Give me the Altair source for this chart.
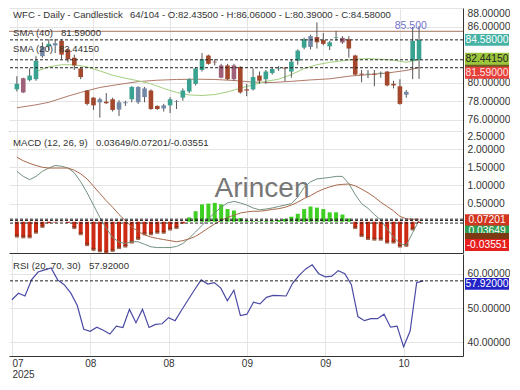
import json
import altair as alt
import pandas as pd

FONT = "Liberation Sans"
GRID = "#e4e4e4"
BORDER = "#333333"

# ---------------- data ----------------
bar_index = list(range(64))
opens = [79.27, 80.46, 80.26, 80.36, 83.82, 83.89, 84.22, 84.48, 83.56, 82.67,
         81.51, 79.14, 78.38, 78.21, 77.95, 78.21, 77.10, 77.78, 78.21, 77.88,
         78.44, 79.14, 77.49, 77.22, 77.55, 77.95, 78.38, 79.04, 79.86, 81.35,
         82.90, 82.24, 80.52, 81.84, 80.36, 81.68, 79.27, 79.27, 80.75, 80.36,
         81.02, 81.45, 81.58, 81.18, 82.34, 83.75, 83.82, 84.88, 84.55, 83.89,
         84.81, 84.80, 84.65, 82.90, 80.95, 80.90, 80.95, 81.00, 81.18, 79.86,
         79.60, 78.70, 82.34, 82.435]
highs = [80.68, 80.52, 81.51, 82.83, 84.32, 84.65, 84.65, 84.65, 83.65, 83.00,
         81.68, 79.20, 78.44, 78.38, 78.87, 78.38, 78.11, 78.05, 79.60, 79.60,
         79.53, 79.27, 77.55, 77.71, 78.44, 78.11, 79.37, 80.46, 81.68, 83.16,
         83.00, 82.50, 82.01, 82.01, 82.01, 81.75, 79.86, 81.51, 81.18, 81.35,
         81.68, 81.77, 81.68, 82.50, 83.56, 84.81, 85.14, 86.46, 85.31, 84.48,
         85.54, 84.98, 84.98, 83.00, 81.35, 81.35, 81.35, 81.18, 81.25, 80.19,
         80.36, 79.20, 85.97, 86.06]
lows = [79.04, 78.87, 80.13, 80.19, 82.67, 83.49, 83.16, 82.50, 82.17, 81.35,
        80.36, 77.55, 77.06, 76.23, 77.71, 76.89, 76.40, 77.49, 77.88, 77.71,
        77.88, 77.06, 77.06, 76.89, 76.72, 77.16, 78.05, 78.87, 79.69, 81.18,
        81.91, 81.84, 80.46, 80.26, 80.19, 78.80, 78.54, 79.14, 79.86, 79.86,
        80.85, 81.25, 80.13, 80.52, 81.91, 83.56, 83.56, 83.65, 83.99, 83.49,
        84.48, 84.15, 82.67, 80.78, 80.03, 80.46, 79.60, 80.52, 79.60, 79.37,
        77.61, 78.38, 80.36, 80.39]
closes = [79.86, 78.94, 80.75, 82.34, 82.83, 84.15, 83.99, 83.00, 82.50, 81.84,
          80.59, 77.71, 77.55, 77.88, 77.78, 77.06, 77.88, 77.88, 79.53, 79.53,
          79.37, 77.16, 77.16, 77.55, 78.21, 78.02, 79.14, 80.36, 81.51, 82.50,
          82.01, 82.17, 81.84, 80.36, 81.84, 78.94, 79.14, 80.59, 80.19, 81.18,
          81.45, 81.51, 81.51, 82.24, 83.43, 84.65, 84.98, 84.32, 84.15, 84.32,
          84.88, 84.30, 83.65, 80.85, 80.85, 80.95, 80.85, 81.05, 79.69, 79.69,
          77.71, 79.00, 84.48, 84.58]
candle_kind = ["t", "m", "t", "t", "s", "t", "s", "b", "b", "b",
               "b", "b", "b", "s", "b", "b", "s", "s", "t", "s",
               "s", "b", "b", "s", "t", "s", "t", "t", "t", "t",
               "b", "b", "m", "b", "m", "b", "b", "t", "b", "t",
               "t", "t", "b", "t", "t", "t", "s", "b", "b", "t",
               "t", "m", "b", "b", "b", "t", "b", "t", "b", "b",
               "b", "s", "t", "t"]

sma20_index = [3, 5, 7, 9, 11, 13, 15, 17, 19, 21, 23, 25, 27, 29, 31, 33, 35, 37,
               39, 41, 43, 45, 47, 49, 51, 53, 55, 57, 59, 61, 63]
sma20 = [81.18, 81.68, 81.91, 81.91, 81.68, 81.25, 80.78, 80.46, 80.19, 79.86,
         79.37, 78.94, 78.67, 78.61, 78.71, 79.00, 79.40, 79.75, 80.13, 80.36,
         80.85, 81.51, 81.91, 82.17, 82.34, 82.50, 82.57, 82.50, 82.40, 82.17, 82.4415]
sma40_index = [0, 3, 5, 8, 10, 13, 16, 19, 22, 25, 28, 31, 34, 37, 40, 43, 46, 49,
               52, 55, 58, 61, 63]
sma40 = [77.29, 77.61, 77.88, 78.54, 78.94, 79.47, 79.80, 80.10, 80.25, 80.33,
         80.36, 80.33, 80.22, 80.05, 80.00, 80.13, 80.28, 80.40, 80.68, 80.85,
         81.02, 81.30, 81.59]

macd_line = [1.39, 1.25, 1.16, 1.25, 1.39, 1.48, 1.55, 1.53, 1.48, 1.35,
             1.10, 0.80, 0.46, 0.12, -0.18, -0.43, -0.56, -0.60, -0.55, -0.55,
             -0.62, -0.69, -0.71, -0.71, -0.71, -0.68, -0.60, -0.45, -0.28, -0.10,
             0.08, 0.25, 0.40, 0.52, 0.56, 0.52, 0.46, 0.38, 0.33, 0.35,
             0.38, 0.42, 0.46, 0.50, 0.68, 0.95, 1.10, 1.18, 1.20, 1.22,
             1.25, 1.25, 1.05, 0.75, 0.50, 0.37, 0.20, 0.05, -0.20, -0.42,
             -0.60, -0.65, -0.30, 0.03649]
macd_signal = [1.78, 1.68, 1.61, 1.55, 1.50, 1.48, 1.48, 1.48, 1.48, 1.42,
               1.32, 1.18, 0.98, 0.78, 0.58, 0.40, 0.20, 0.03, -0.14, -0.27,
               -0.36, -0.42, -0.46, -0.49, -0.52, -0.55, -0.52, -0.47, -0.40, -0.29,
               -0.17, -0.06, 0.04, 0.12, 0.18, 0.24, 0.27, 0.29, 0.29, 0.31,
               0.34, 0.36, 0.40, 0.46, 0.54, 0.64, 0.72, 0.82, 0.90, 0.96,
               1.01, 1.03, 1.04, 0.99, 0.90, 0.80, 0.68, 0.54, 0.42, 0.30,
               0.15, 0.08, 0.07, 0.07201]
macd_hist = [-0.395, -0.416, -0.416, -0.288, -0.128, -0.04, -0.02, -0.01, -0.03, -0.16,
             -0.33, -0.63, -0.76, -0.80, -0.84, -0.79, -0.71, -0.67, -0.56, -0.46,
             -0.33, -0.33, -0.29, -0.29, -0.20, -0.16, -0.05, 0.12, 0.29, 0.48,
             0.50, 0.52, 0.48, 0.35, 0.31, 0.10, 0.03, 0.02, 0.02, 0.02,
             0.03, 0.05, 0.08, 0.14, 0.22, 0.35, 0.42, 0.39, 0.35, 0.26,
             0.26, 0.20, 0.09, -0.16, -0.38, -0.46, -0.48, -0.48, -0.56, -0.56,
             -0.67, -0.65, -0.20, -0.03551]
rsi_line = [52.4, 54.3, 53.5, 58.2, 60.5, 61.1, 61.7, 58.2, 56.8, 54.4,
            50.8, 43.8, 43.2, 44.4, 43.5, 42.4, 44.7, 44.3, 49.6, 45.7,
            49.6, 44.3, 45.2, 45.4, 47.2, 46.3, 49.4, 52.4, 55.4, 58.2,
            57.0, 57.4, 55.8, 52.1, 55.2, 47.8, 48.2, 51.7, 51.2, 53.1,
            53.7, 53.6, 53.5, 57.2, 59.5, 61.4, 62.6, 60.0, 59.1, 59.3,
            60.9, 60.0, 56.8, 47.5, 46.3, 46.9, 46.9, 48.2, 44.4, 44.7,
            38.7, 43.3, 57.4, 57.92]

tick_index = [0, 12, 24, 36, 48, 60]
tick_labels = ["07", "08", "08", "09", "09", "10"]
year_label = "2025"

last_close = 84.58
sma20_last = 82.4415
sma40_last = 81.59
high_level = 85.5
macd_values = [0.03649, 0.07201, -0.03551]   # macd / signal / histogram
rsi_last = 57.92

price_ticks = [76, 78, 80, 86, 88]
macd_ticks = [0.5, 1.0, 1.5, 2.0, 2.5]
rsi_ticks = [40, 50, 60]

header_left = "WFC - Daily - Candlestick"
header_right = "64/104 - O:82.43500 - H:86.06000 - L:80.39000 - C:84.58000"

# ---------------- layout ----------------
W = 454
H1, H2, H3 = 123, 122, 102
XS = alt.Scale(domain=[-0.45, 69.1], nice=False, zero=False)
BOX_SHAPE = "M-1,-0.27L1,-0.27L1,0.27L-1,0.27Z"
BOX_X = W + 24
TITLE_SIZE = 9.6

candles = pd.DataFrame({"i": bar_index, "o": opens, "h": highs, "l": lows,
                        "c": closes, "kind": candle_kind})
sma20_df = pd.DataFrame({"i": sma20_index, "v": sma20})
sma40_df = pd.DataFrame({"i": sma40_index, "v": sma40})
macd_df = pd.DataFrame({"i": bar_index, "m": macd_line, "s": macd_signal,
                        "hist": macd_hist, "zero": [0] * len(bar_index)})
rsi_df = pd.DataFrame({"i": bar_index, "r": rsi_line})


def x_axis(show_labels):
    if show_labels:
        labels_js = json.dumps(tick_labels)
        expr = (f"datum.value == {tick_index[0]} ? [{labels_js}[0], '{year_label}'] : "
                f"{labels_js}[indexof({json.dumps(tick_index)}, datum.value)]")
        return alt.Axis(values=tick_index, grid=True, gridColor=GRID, ticks=False,
                        domain=True, domainColor=BORDER, title=None,
                        labelFont=FONT, labelFontSize=10, labelColor="#333",
                        labelPadding=2, labelLineHeight=11, labelBaseline="top",
                        labelExpr=expr,
                        labelAlign={"condition": {"test": "datum.value == 0", "value": "left"},
                                    "value": "center"})
    return alt.Axis(values=tick_index, grid=True, gridColor=GRID, labels=False,
                    ticks=False, domain=True, domainColor=BORDER, title=None)


def y_axis(values):
    return alt.Axis(orient="right", values=values, format=".5f", grid=True,
                    gridColor=GRID, ticks=False, domain=True, domainColor=BORDER,
                    labelFont=FONT, labelFontSize=10.3, labelColor="#333",
                    labelPadding=4, labelFlush=4, title=None)


def make_enc(domain, values, show_x):
    ys = alt.Scale(domain=domain, nice=False, zero=False)
    ya = y_axis(values)
    xa = x_axis(show_x)

    def X(field):
        return alt.X(f"{field}:Q", scale=XS, axis=xa, title=None)

    def Y(field):
        return alt.Y(f"{field}:Q", scale=ys, axis=ya, title=None)
    return X, Y


def text_at(txt, px, py, size=TITLE_SIZE, color="#333", align="left"):
    return alt.Chart(pd.DataFrame({"t": [txt]})).mark_text(
        align=align, baseline="middle", font=FONT, fontSize=size, color=color
    ).encode(x=alt.value(px), y=alt.value(py), text="t:N")


def value_box(Y, v, fill, text_color=None, offset=0):
    d = pd.DataFrame({"v": [v], "t": [f"{v:.5f}"]})
    box = alt.Chart(d).mark_point(shape=BOX_SHAPE, size=44 * 44, filled=True,
                                  opacity=1, color=fill, strokeWidth=0,
                                  yOffset=offset).encode(x=alt.value(BOX_X), y=Y("v"))
    if text_color is None:
        return [box]
    txt = alt.Chart(d).mark_text(font=FONT, fontSize=10.3, color=text_color,
                                 align="center", baseline="middle",
                                 yOffset=offset).encode(x=alt.value(BOX_X), y=Y("v"), text="t:N")
    return [box, txt]


def dashed(Y, vals):
    return alt.Chart(pd.DataFrame({"v": vals})).mark_rule(
        color="#222", strokeWidth=1, strokeDash=[3, 2]).encode(y=Y("v"))


# ---------------- price panel ----------------
X1, Y1 = make_enc([74.8, 88], price_ticks, False)
kind_scale = alt.Scale(domain=["t", "b", "s", "m"],
                       range=["#3aa290", "#a3482c", "#7489a6", "#a0607a"])

p_high = alt.Chart(pd.DataFrame({"v": [high_level]})).mark_rule(
    color="#b59080", strokeWidth=1.2).encode(y=Y1("v"))
p_sma40 = alt.Chart(sma40_df).mark_line(color="#b07a68", strokeWidth=1).encode(x=X1("i"), y=Y1("v"))
p_sma20 = alt.Chart(sma20_df).mark_line(color="#a3cf7d", strokeWidth=1).encode(x=X1("i"), y=Y1("v"))
p_wick = alt.Chart(candles).mark_rule(color="#555", strokeWidth=1).encode(
    x=X1("i"), y=Y1("l"), y2=alt.Y2("h:Q"))
p_body = alt.Chart(candles).mark_bar(size=4.6).encode(
    x=X1("i"), y=Y1("o"), y2=alt.Y2("c:Q"),
    color=alt.Color("kind:N", scale=kind_scale, legend=None))
p_dash = dashed(Y1, [last_close, sma20_last, sma40_last])
p_hl_text = alt.Chart(pd.DataFrame({"i": [61.7], "v": [86.1], "t": [f"{high_level:.3f}"]})).mark_text(
    font=FONT, fontSize=10.5, color="#7474cc", baseline="middle").encode(
    x=X1("i"), y=Y1("v"), text="t:N")

price_layers = [p_high, p_sma40, p_sma20, p_wick, p_body, p_dash, p_hl_text,
                text_at(header_left, 4, 7), text_at(header_right, 121, 7),
                text_at("SMA (40)", 4, 25), text_at(f"{sma40_last:.5f}", 52, 25),
                text_at("SMA (20)", 4, 41), text_at(f"{sma20_last:.5f}", 50, 41)]
price_layers += value_box(Y1, last_close, "#45b2a4", "white", 0)
price_layers += value_box(Y1, sma40_last, "#6e5a22", None, 0)
price_layers += value_box(Y1, sma20_last, "#9cc63c", "#222", -1)
price_layers += value_box(Y1, sma40_last, "#e6403a", "#ffe6e6", 5)
price_panel = alt.layer(*price_layers).properties(width=W, height=H1)

# ---------------- MACD panel ----------------
X2, Y2 = make_enc([-0.86, 2.5], macd_ticks, False)
m_hist = alt.Chart(macd_df).mark_bar(size=4).encode(
    x=X2("i"), y=Y2("hist"), y2=alt.Y2("zero:Q"),
    color=alt.condition(alt.datum.hist > 0, alt.value("#3fcf22"), alt.value("#cc2a12")))
m_tip = alt.Chart(macd_df).transform_filter(alt.datum.hist < -0.06).mark_tick(
    orient="horizontal", size=4, thickness=3, color="#7b2e10").encode(x=X2("i"), y=Y2("hist"))
m_mark = text_at("Arincen", 253, 58, size=28, color="#777", align="center")
m_line = alt.Chart(macd_df).mark_line(color="#73907f", strokeWidth=1).encode(x=X2("i"), y=Y2("m"))
m_sig = alt.Chart(macd_df).mark_line(color="#a8694a", strokeWidth=1).encode(x=X2("i"), y=Y2("s"))
m_dash = dashed(Y2, macd_values)
macd_text = "/".join(f"{v:.5f}" for v in macd_values)
macd_layers = [m_hist, m_tip, m_mark, m_line, m_sig, m_dash,
               text_at("MACD (12, 26, 9)", 4, 12), text_at(macd_text, 87, 12)]
macd_layers += value_box(Y2, macd_values[1], "#d2341e", "white", 1)
macd_layers += value_box(Y2, macd_values[0], "#2e9d50", "white", 11)
macd_layers += value_box(Y2, macd_values[2], "#7b3a14", None, 16)
macd_layers += value_box(Y2, macd_values[2], "#e61e1e", "white", 22)
macd_panel = alt.layer(*macd_layers).properties(width=W, height=H2)

# ---------------- RSI panel ----------------
X3, Y3 = make_enc([36, 65.75], rsi_ticks, True)
r_line = alt.Chart(rsi_df).mark_line(color="#4b4ba6", strokeWidth=1.2).encode(x=X3("i"), y=Y3("r"))
r_dash = dashed(Y3, [rsi_last])
rsi_layers = [r_line, r_dash, text_at("RSI (20, 70, 30)", 4, 12),
              text_at(f"{rsi_last:.5f}", 80, 12)]
rsi_layers += value_box(Y3, rsi_last, "#2323c8", "white", 3)
rsi_panel = alt.layer(*rsi_layers).properties(width=W, height=H3)

chart = alt.vconcat(price_panel, macd_panel, rsi_panel, spacing=0).properties(
    padding={"left": 0, "top": 0, "right": 0, "bottom": 0}
).configure_view(stroke=None)

chart.save("out.html", embed_options={"renderer": "svg", "actions": False})
